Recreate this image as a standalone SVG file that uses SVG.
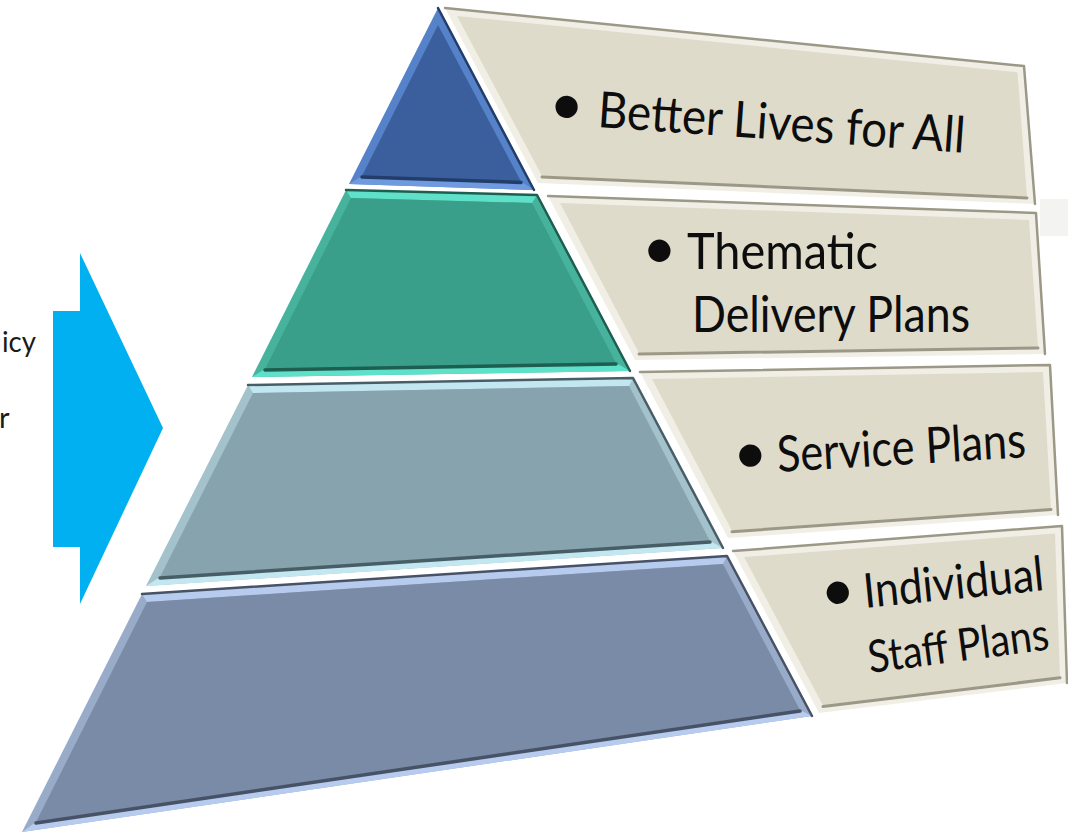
<svg xmlns="http://www.w3.org/2000/svg" width="1068" height="837" viewBox="0 0 1068 837">
<style>
  .lbl{font-family:"Lato","Open Sans","Liberation Sans",sans-serif;fill:#0d0d0d;}
  .bul{font-family:"Lato","Open Sans","Liberation Sans",sans-serif;fill:#0d0d0d;font-size:60px;}
  .side{font-family:"Lato","Open Sans","Liberation Sans",sans-serif;fill:#1a1a1a;font-size:29px;}
  .dk{fill:none;stroke-linecap:round;stroke-linejoin:round;}
  .t1m{fill:#5682c9}.t1l{fill:#6f9ae0}.t1b{fill:#3b5f9d}.t1d{stroke:#233d6a}
  .t2m{fill:#48b39d}.t2l{fill:#5fe0c9}.t2b{fill:#3a9f8a}.t2d{stroke:#1d5e50}
  .t3m{fill:#a3c2cc}.t3l{fill:#c2e7f1}.t3b{fill:#87a3ae}.t3d{stroke:#485e67}
  .t4m{fill:#98acca}.t4l{fill:#b6cbee}.t4b{fill:#7a8ba7}.t4d{stroke:#475266}
  .bl{fill:#f1efe5}.bb{fill:#dfdbca}.bd{stroke:#9c9887}
</style>
<rect width="1068" height="837" fill="#ffffff"/>
<rect x="1040" y="199" width="28" height="37" fill="#f3f3f1"/>

<g id="side-text">
  <text class="side" x="2" y="352" textLength="34" lengthAdjust="spacingAndGlyphs">icy</text>
  <text class="side" x="-1" y="428">r</text>
</g>

<g id="arrow">
  <polygon points="53,311 80,311 80,253 163,428 80,604 80,547 53,547" fill="#00b0f0"/>
</g>

<g id="connectors"></g>

<g id="tier1">
  <polygon class="t1m" points="438,8 534,190 349,184"/>
  <polygon class="t1l" points="362,176 521,181.5 534,190 349,184"/>
  <polyline class="dk t1d" stroke-width="2.5" points="438,8 534,190"/>
  <polygon class="t1b" points="438,25 521,181.5 362,176"/>
  <polyline class="dk t1d" stroke-width="3.5" points="362,177 521,182.5"/>
</g>

<g id="tier2">
  <polygon class="t2m" points="346,190 537,195 630,371 252,377"/>
  <polygon class="t2l" points="346,190 537,195 532,203 351,198"/>
  <polygon class="t2l" points="265,369 616,363 630,371 252,377"/>
  <polyline class="dk t2d" stroke-width="2.5" points="346,190 537,195 630,371"/>
  <polygon class="t2b" points="351,198 532,203 616,363 265,369"/>
  <polyline class="dk t2d" stroke-width="3.5" points="265,370 616,364"/>
</g>

<g id="tier3">
  <polygon class="t3m" points="248,385 633,378 723,548 146,586"/>
  <polygon class="t3l" points="248,385 633,378 629,386 253,393"/>
  <polygon class="t3l" points="160,577 710,541 723,548 146,586"/>
  <polyline class="dk t3d" stroke-width="2.5" points="248,385 633,378 723,548"/>
  <polygon class="t3b" points="253,393 629,386 710,541 160,577"/>
  <polyline class="dk t3d" stroke-width="3.5" points="160,578 710,542"/>
</g>

<g id="tier4">
  <polygon class="t4m" points="142,594 727,556 812,716 22,832"/>
  <polygon class="t4l" points="142,594 727,556 723,564 147,602"/>
  <polygon class="t4l" points="36,822 800,710 812,716 22,832"/>
  <polyline class="dk t4d" stroke-width="2.5" points="142,594 727,556 812,716"/>
  <polygon class="t4b" points="147,602 723,564 800,710 36,822"/>
  <polyline class="dk t4d" stroke-width="3.5" points="36,823 800,711"/>
</g>

<g id="box1">
  <polygon class="bl" points="445,8 1024,66 1035,204 538,183"/>
  <polyline class="dk bd" stroke-width="2.5" points="445,8 1024,66 1035,204"/>
  <polygon class="bb" points="457,16 1017.5,72.3 1027,197 542,176"/>
  <polyline class="dk bd" stroke-width="3" points="542,177 1027,198"/>
  <text class="bul" transform="translate(597,127) rotate(4)" x="-49" y="0">•</text>
  <text class="lbl" font-size="50" transform="translate(597,127) rotate(4)" textLength="368" lengthAdjust="spacingAndGlyphs">Better Lives for All</text>
</g>

<g id="box2">
  <polygon class="bl" points="548,196 1036,213 1045,354 635,360"/>
  <polyline class="dk bd" stroke-width="2.5" points="548,196 1036,213 1045,354"/>
  <polygon class="bb" points="560,203 1029,220 1038,347 639,353"/>
  <polyline class="dk bd" stroke-width="3" points="639,354 1038,348"/>
  <text class="bul" x="642" y="269">•</text>
  <text class="lbl" font-size="50" x="687" y="269" textLength="191" lengthAdjust="spacingAndGlyphs">Thematic</text>
  <text class="lbl" font-size="50" x="692" y="332" textLength="278" lengthAdjust="spacingAndGlyphs">Delivery Plans</text>
</g>

<g id="box3">
  <polygon class="bl" points="640,372 1050,365 1058,515 728,538"/>
  <polyline class="dk bd" stroke-width="2.5" points="640,372 1050,365 1058,515"/>
  <polygon class="bb" points="652,379 1043,372 1051,508.5 732,530.7"/>
  <polyline class="dk bd" stroke-width="3" points="732,531.7 1051,509.5"/>
  <text class="bul" transform="translate(778,472) rotate(-3.4)" x="-44" y="0">•</text>
  <text class="lbl" font-size="50" transform="translate(778,472) rotate(-3.4)" textLength="249" lengthAdjust="spacingAndGlyphs">Service Plans</text>
</g>

<g id="box4">
  <polygon class="bl" points="733,551 1062,526 1067,683 819,713"/>
  <polyline class="dk bd" stroke-width="2.5" points="733,551 1062,526 1067,683"/>
  <polygon class="bb" points="744,557 1055,533.5 1060,676.8 823,705.5"/>
  <polyline class="dk bd" stroke-width="3" points="823,706.5 1060,677.8"/>
  <text class="bul" transform="translate(865,608) rotate(-5.7)" x="-43" y="0">•</text>
  <text class="lbl" font-size="48" transform="translate(865,608) rotate(-5.7)" textLength="181" lengthAdjust="spacingAndGlyphs">Individual</text>
  <text class="lbl" font-size="45" transform="translate(870,673) rotate(-7.5)" textLength="182" lengthAdjust="spacingAndGlyphs">Staff Plans</text>
</g>
</svg>
